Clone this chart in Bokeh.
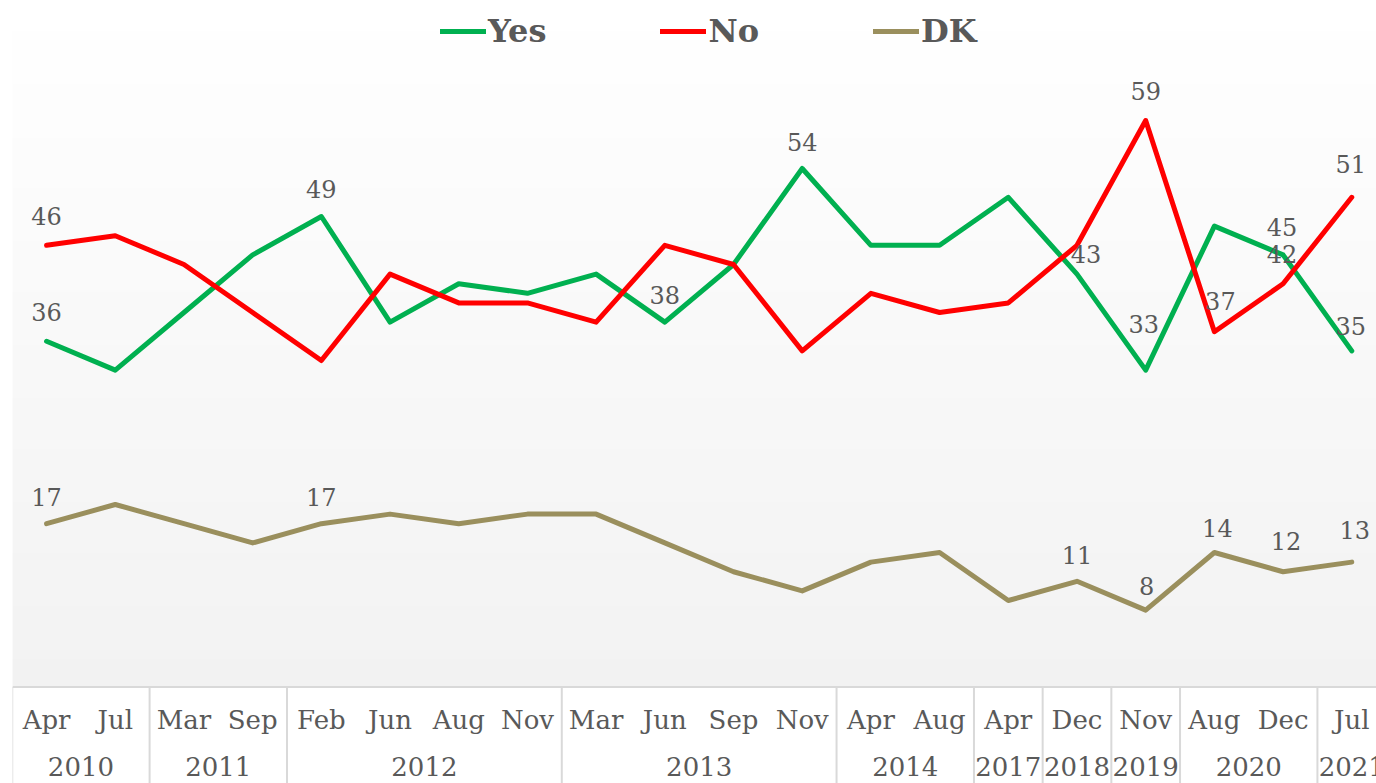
import numpy as np
from bokeh.plotting import figure
from bokeh.models import Range1d, Legend, LegendItem, ColumnDataSource, Span
from bokeh.core.properties import value
from bokeh.embed import file_html
from bokeh.resources import INLINE

# ---------------- data ----------------
years = ["2010", "2010", "2011", "2011", "2012", "2012", "2012", "2012",
         "2013", "2013", "2013", "2013", "2014", "2014", "2017", "2018",
         "2019", "2020", "2020", "2021"]
months = ["Apr", "Jul", "Mar", "Sep", "Feb", "Jun", "Aug", "Nov",
          "Mar", "Jun", "Sep", "Nov", "Apr", "Aug", "Apr", "Dec",
          "Nov", "Aug", "Dec", "Jul"]
yes = [36, 33, 39, 45, 49, 38, 42, 41, 43, 38, 44, 54, 46, 46, 51, 43, 33, 48, 45, 35]
no = [46, 47, 44, 39, 34, 43, 40, 40, 38, 46, 44, 35, 41, 39, 40, 46, 59, 37, 42, 51]
dk = [17, 19, 17, 15, 17, 18, 17, 18, 18, 15, 12, 10, 13, 14, 9, 11, 8, 14, 12, 13]

# which points carry a data label
yes_labelled = [0, 4, 9, 11, 15, 16, 18, 19]
no_labelled = [0, 16, 17, 18, 19]
dk_labelled = [0, 4, 15, 16, 17, 18, 19]

# label offsets in screen pixels (dx, dy)
yes_label_off = [(0, -29), (0, -28), (0, -27), (0, -27), (9, -20), (-2, -46), (-1, -28), (-1, -25)]
no_label_off = [(0, -29), (0, -30), (6, -31), (-1, -30), (-1, -33)]
dk_label_off = [(0, -27), (0, -27), (0, -26), (1, -24), (3, -25), (3, -31), (3, -32)]

# ---------------- styles ----------------
C_YES = "#00B050"
C_NO = "#FF0000"
C_DK = "#9A8F5D"
TXT = "#595959"
FONT = "DejaVu Serif"

n = len(months)
idx = list(range(n))

p = figure(width=1376, height=783, output_backend="svg", toolbar_location=None,
           x_range=Range1d(-0.496, 19.36), y_range=Range1d(-10.06, 71.5),
           min_border_left=12, min_border_right=0, min_border_top=0, min_border_bottom=0,
           x_axis_location=None, y_axis_location=None)
p.grid.visible = False
p.outline_line_color = None
p.background_fill_color = "white"
p.border_fill_color = "white"

# background gradient of the plot area (white at top to light grey at bottom)
N = 256
grad = np.zeros((N, 1), dtype=np.uint32)
view = grad.view(dtype=np.uint8).reshape((N, 1, 4))
for j in range(N):
    c = int(round(242 + (255 - 242) * j / (N - 1)))
    view[j, 0, :] = [c, c, c, 255]
p.image_rgba(image=[grad], x=-0.5, y=0, dw=21, dh=71)

# axis line
p.add_layout(Span(location=0, dimension="width", line_color="#D9D9D9", line_width=2))

# group separators and year labels
bounds = [-0.5] + [i - 0.5 for i in range(1, n) if years[i] != years[i - 1]] + [n - 0.5]
p.segment(x0=bounds, y0=[0] * len(bounds), x1=bounds, y1=[-20] * len(bounds),
          line_color="#D9D9D9", line_width=2)
grp_years, grp_centers = [], []
for a, b in zip(bounds[:-1], bounds[1:]):
    grp_years.append(years[int(a + 0.5)])
    grp_centers.append((a + b) / 2)
p.text(x=grp_centers, y=[0] * len(grp_centers), text=grp_years, y_offset=80,
       text_align="center", text_baseline="middle", text_font=value(FONT),
       text_font_size="26px", text_color=TXT)
p.text(x=idx, y=[0] * n, text=months, y_offset=33,
       text_align="center", text_baseline="middle", text_font=value(FONT),
       text_font_size="26px", text_color=TXT)

# series lines
r_yes = p.line(idx, yes, line_color=C_YES, line_width=5, line_join="round", line_cap="round")
r_no = p.line(idx, no, line_color=C_NO, line_width=5, line_join="round", line_cap="round")
r_dk = p.line(idx, dk, line_color=C_DK, line_width=5, line_join="round", line_cap="round")

# data labels
def add_labels(vals, which, offs):
    src = ColumnDataSource(dict(
        x=[idx[i] for i in which],
        y=[vals[i] for i in which],
        t=[str(vals[i]) for i in which],
        dx=[o[0] for o in offs],
        dy=[o[1] for o in offs],
    ))
    p.text(x="x", y="y", text="t", x_offset="dx", y_offset="dy", source=src,
           text_align="center", text_baseline="middle", text_font=value(FONT),
           text_font_size="24px", text_color=TXT)

add_labels(yes, yes_labelled, yes_label_off)
add_labels(no, no_labelled, no_label_off)
add_labels(dk, dk_labelled, dk_label_off)

legend = Legend(items=[LegendItem(label="Yes", renderers=[r_yes]),
                       LegendItem(label="No", renderers=[r_no]),
                       LegendItem(label="DK", renderers=[r_dk])],
                orientation="horizontal", location=(428, 733),
                spacing=114, glyph_width=46, glyph_height=20, label_standoff=2,
                padding=0, margin=0, border_line_alpha=0, background_fill_alpha=0,
                label_text_font=FONT, label_text_font_style="bold",
                label_text_font_size="32px", label_text_color=TXT)
p.add_layout(legend)

open("out.html", "w").write(file_html(p, INLINE))
